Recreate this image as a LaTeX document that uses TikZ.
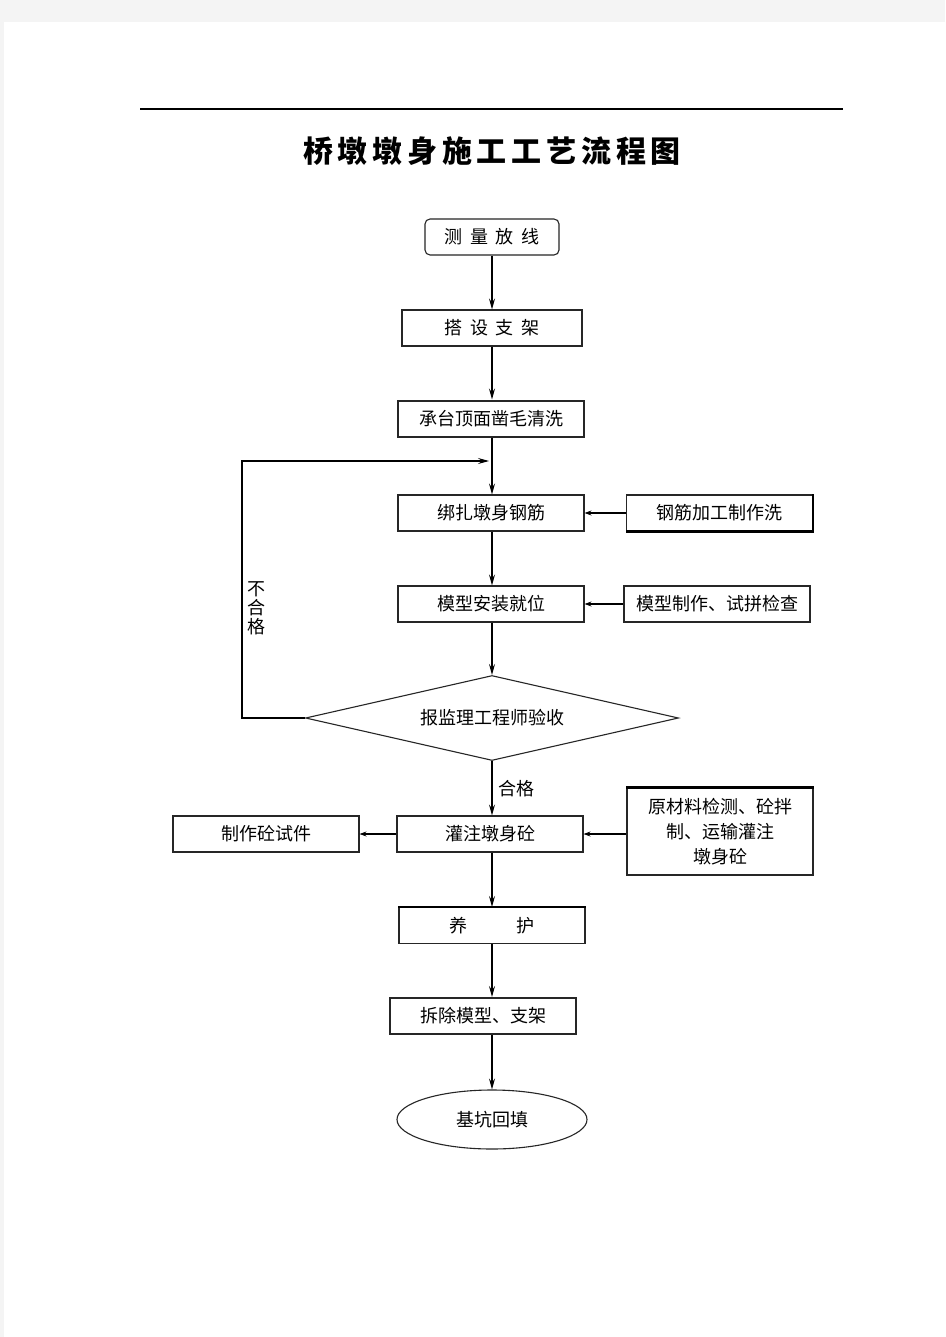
\documentclass[tikz,border=0pt]{standalone}
\usepackage{fontspec}
\setmainfont{Noto Sans CJK SC}
\usepackage{tikz}
\usetikzlibrary{arrows.meta, shapes.geometric, positioning}

\definecolor{pagegrey}{RGB}{244,244,244}
\newcommand\boxfont{\fontsize{18pt}{25pt}\selectfont}

\tikzset{
    box/.style={draw=black!85, line width=1.1pt, minimum width=186pt, minimum height=36pt, inner sep=0pt, font=\boxfont},
    heavybox/.style={box, line width=2pt},
    flow/.style={line width=1.1pt, -{Stealth[length=11pt,width=6pt,inset=4pt]}},
    sideflow/.style={line width=1.1pt, -{Stealth[length=7pt,width=5pt,inset=2.5pt]}},
    lbl/.style={font=\boxfont, inner sep=0pt}
}

\begin{document}
\begin{tikzpicture}[x=1pt,y=-1pt]
            \useasboundingbox (0,0) rectangle (945,1337);
            \fill[pagegrey] (0,0) rectangle (945,1337);
            \fill[white] (4,22) rectangle (945,1337);
            \draw[line width=1.2pt] (140,109) -- (843,109);
            \node[font=\fontsize{30pt}{32pt}\selectfont\bfseries\addfontfeature{LetterSpace=16}] (title) at (492,151) {桥墩墩身施工工艺流程图};

            % main column
            \node[box, minimum width=134pt, rounded corners=5pt] (survey) at (492,237) {测\hspace{7.5pt}量\hspace{7.5pt}放\hspace{7.5pt}线};
            \node[box, minimum width=180pt] (frame) at (492,328) {搭\hspace{7.5pt}设\hspace{7.5pt}支\hspace{7.5pt}架};
            \node[heavybox] (clean) at (491,418.5) {承台顶面凿毛清洗};
            \node[box] (rebar) at (491,513) {绑扎墩身钢筋};
            \node[box] (form) at (491,604) {模型安装就位};
            \node[draw=black!85, line width=1.1pt, diamond, minimum width=373pt, minimum height=85pt, aspect=4.4, inner sep=0pt, font=\boxfont] (check) at (492,718) {报监理工程师验收};
            \node[box] (pour) at (490,834) {灌注墩身砼};
            \node[box] (cure) at (492,925.5) {养\hspace{49pt}护};
            \node[heavybox] (strip) at (483,1016) {拆除模型、支架};
            \node[draw=black!85, line width=1.1pt, ellipse, minimum width=190pt, minimum height=59pt, font=\boxfont] (fill) at (492,1119.5) {基坑回填};

            % side boxes
            \node[box] (rebarprep) at (719.5,513) {钢筋加工制作洗};
            \draw[line width=2.2pt] (rebarprep.north east) -- (rebarprep.south east) -- (rebarprep.south west);
            \node[heavybox] (formprep) at (717,604) {模型制作、试拼检查};
            \node[box, minimum height=87pt, align=center] (mix) at (720,831.5) {原材料检测、砼拌\\制、运输灌注\\墩身砼};
            \draw[line width=2.2pt] (mix.north west) -- (mix.north east);
            \draw[line width=2.2pt] (cure.north west) -- (cure.north east);
            \node[box] (sample) at (266,834) {制作砼试件};

            % connectors
            \draw[flow] (survey) -- (frame);
            \draw[flow] (frame.south) -- (frame.south |- clean.north);
            \draw[flow] (frame.south |- clean.south) -- (frame.south |- rebar.north);
            \draw[flow] (frame.south |- rebar.south) -- (frame.south |- form.north);
            \draw[flow] (frame.south |- form.south) -- (check.north);
            \draw[flow] (check.south) -- (check.south |- pour.north);
            \draw[flow] (check.south |- pour.south) -- (check.south |- cure.north);
            \draw[flow] (cure.south) -- (cure.south |- strip.north);
            \draw[flow] (cure.south |- strip.south) -- (fill.north);
            \draw[sideflow] (rebarprep.west) -- (rebar.east);
            \draw[sideflow] (formprep.west) -- (form.east);
            \draw[sideflow] (mix.west |- pour.east) -- (pour.east);
            \draw[sideflow] (pour.west) -- (sample.east);

            % loop back
            \coordinate (back) at (489,461);
            \draw[flow] (check.west) -- ++(-63,0) |- (back);
            \node[lbl, align=center, font=\fontsize{18pt}{19pt}\selectfont] (fail) at (256,608) {不\\合\\格};
            \node[lbl, anchor=west] (pass) at (498,789) {合格};
\end{tikzpicture}
\end{document}
